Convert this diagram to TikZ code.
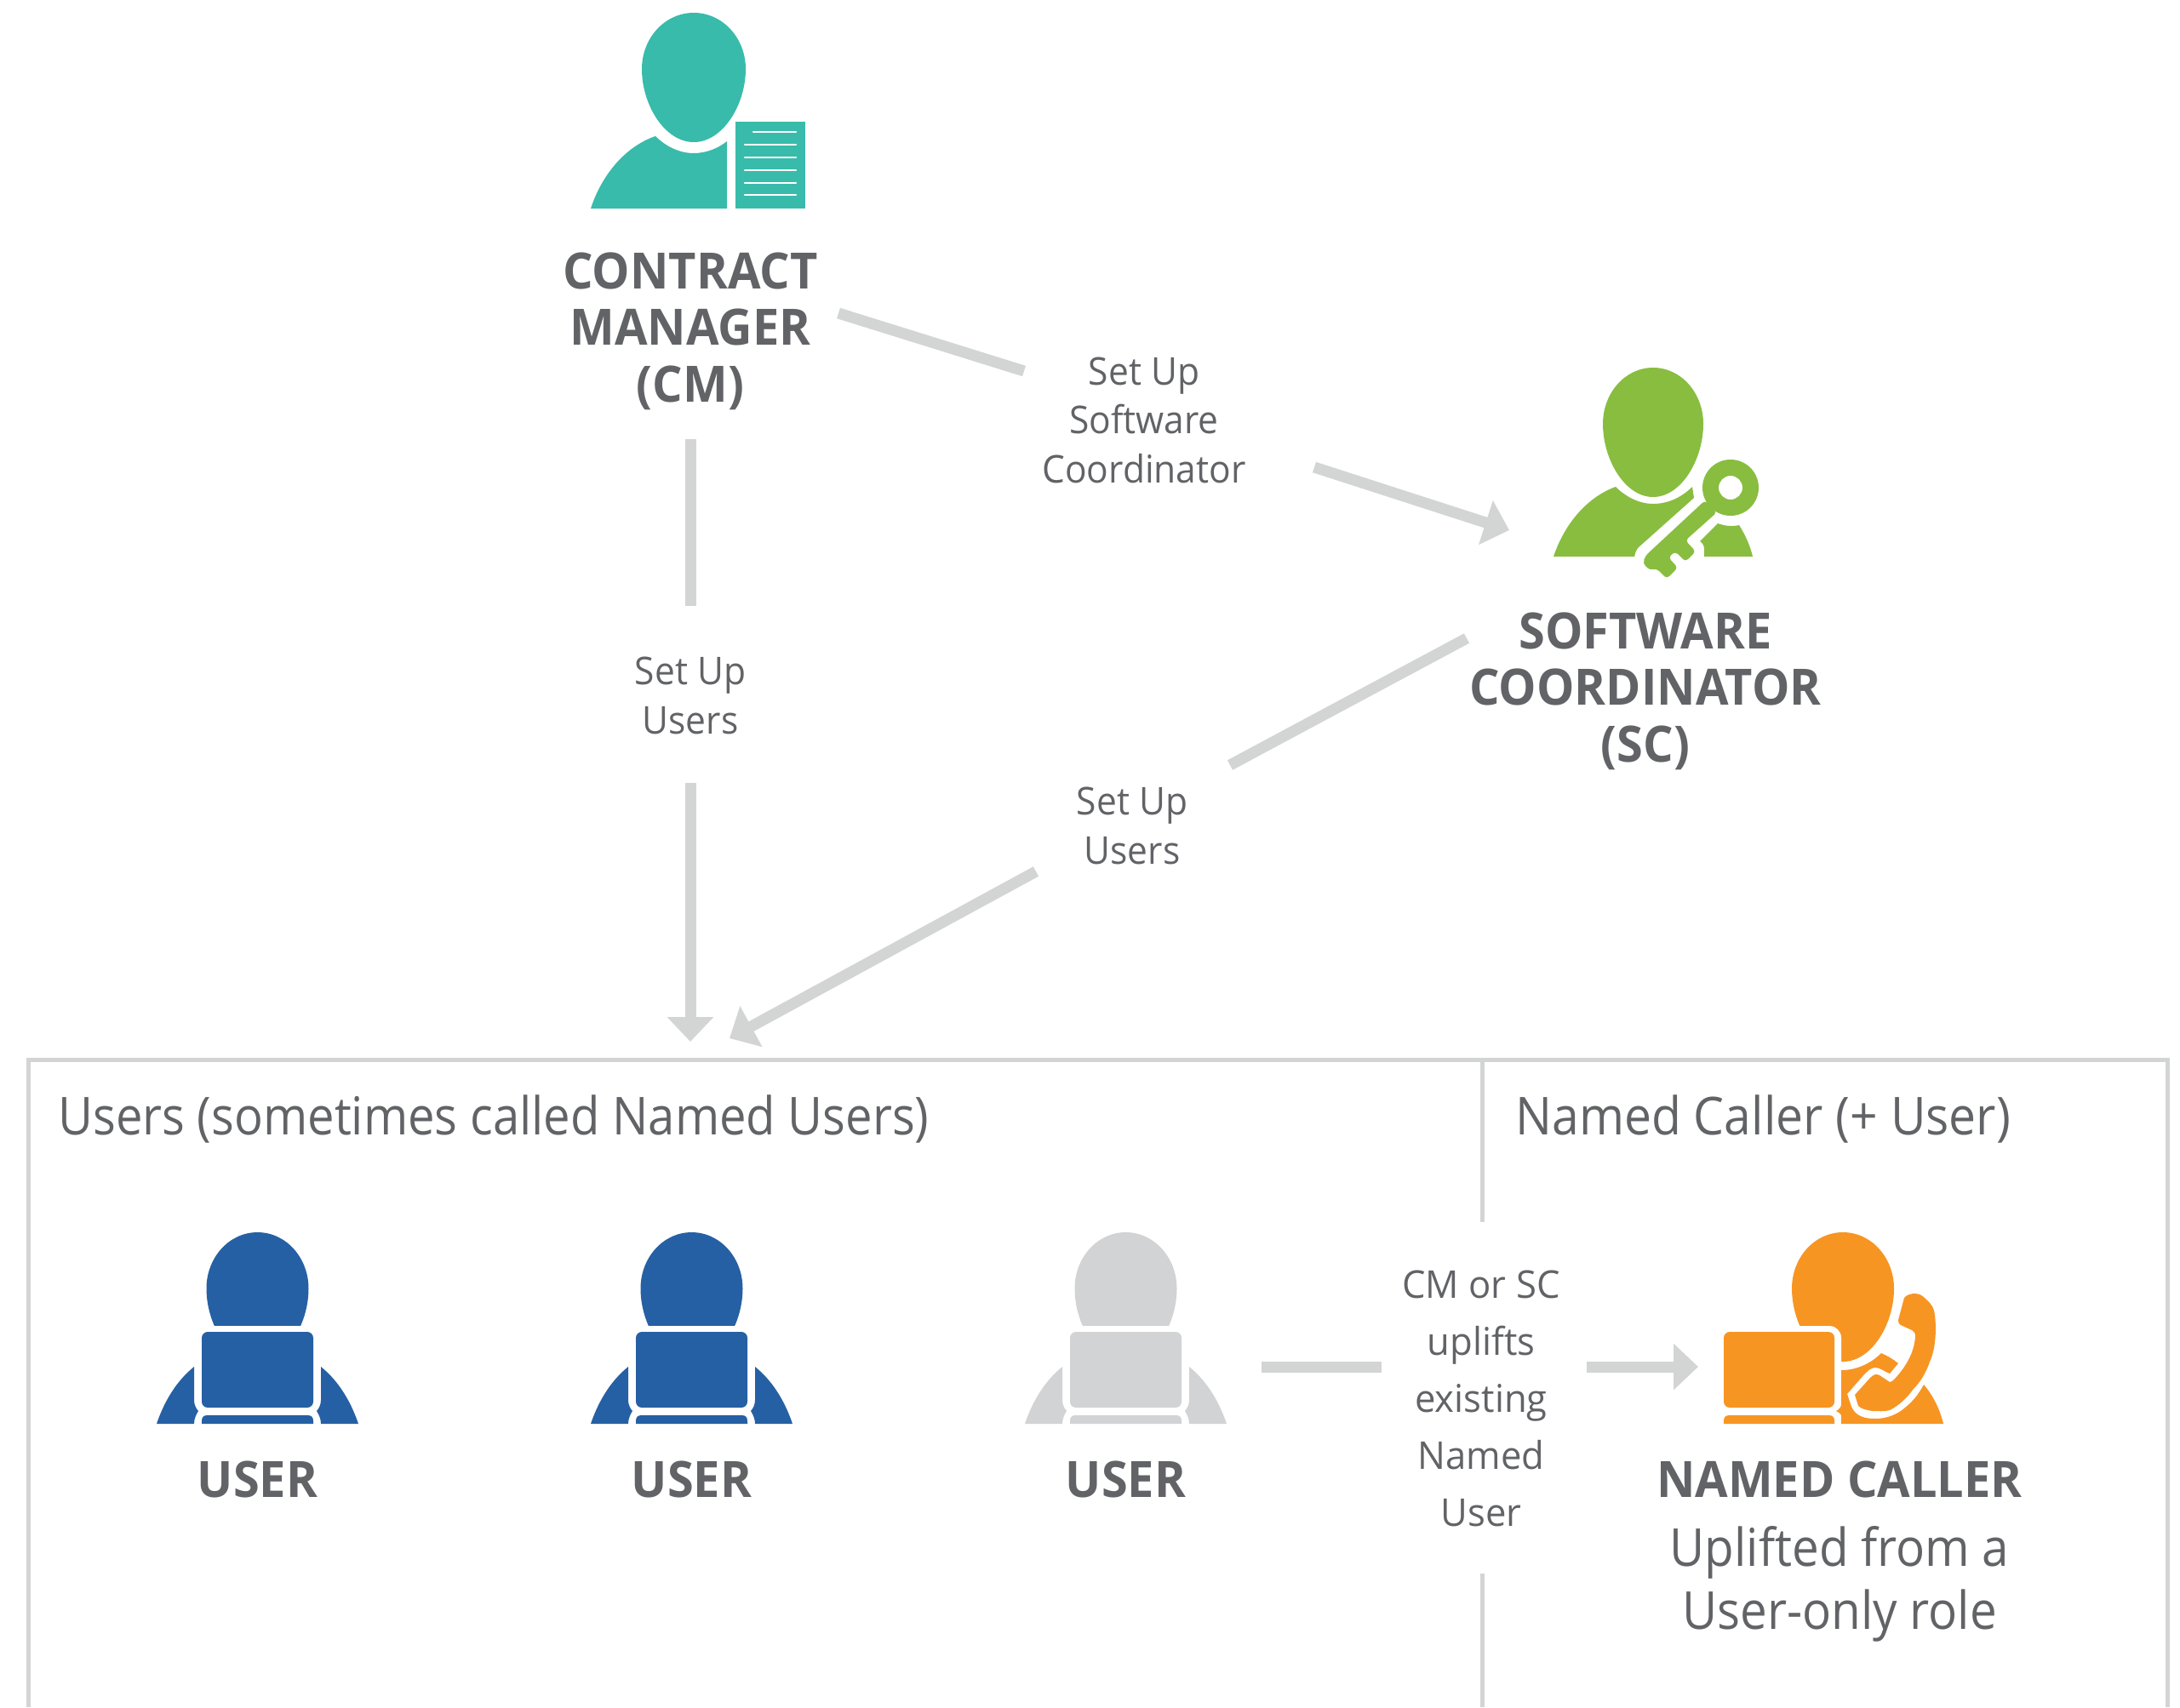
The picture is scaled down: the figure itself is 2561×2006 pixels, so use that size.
\documentclass[tikz,border=0pt]{standalone}
\usepackage{fontspec}
\setmainfont{Open Sans}
\newfontfamily\smallfam[FakeStretch=0.945]{Open Sans}
\newfontfamily\tallfam[FakeStretch=0.97]{Open Sans}
\newfontfamily\rolefam[FakeStretch=0.95]{Open Sans}
\newfontfamily\capfam[FakeStretch=0.914]{Open Sans}
\newfontfamily\capbfam[FakeStretch=0.928]{Open Sans}
\newfontfamily\subfam[FakeStretch=0.92]{Open Sans}
\usetikzlibrary{arrows.meta}
\definecolor{teal1}{HTML}{38BBAA}
\definecolor{green1}{HTML}{89BD40}
\definecolor{blue1}{HTML}{2660A4}
\definecolor{grey1}{HTML}{D1D3D4}
\definecolor{orange1}{HTML}{F79523}
\definecolor{txt}{HTML}{626366}
\definecolor{rule1}{HTML}{D3D5D4}
\tikzset{
  x=0.02cm,y=-0.02cm,
  flow/.style={draw=rule1,line width=0.26cm,line cap=butt},
  flowhead/.style={flow,-{Triangle[length=0.58cm,width=1.06cm,fill=rule1]}},
  frame/.style={draw=rule1,line width=0.1cm},
  small/.style={inner sep=0,text=txt,align=center,anchor=base,font=\fontsize{25.6}{32.7}\smallfam\selectfont},
  smalltall/.style={small,font=\fontsize{25.6}{38.1}\tallfam\selectfont},
  role/.style={inner sep=0,text=txt,align=center,anchor=base,font=\fontsize{33.5}{37.6}\rolefam\bfseries\selectfont},
  caption/.style={inner sep=0,text=txt,anchor=base west,font=\fontsize{35}{42}\capfam\selectfont},
  captionb/.style={caption,font=\fontsize{35}{42}\capbfam\selectfont},
  sub/.style={inner sep=0,text=txt,align=center,anchor=base,font=\fontsize{35}{41.8}\subfam\selectfont},
}
\newcommand{\HeadShape}[3]{% cx, top, half width
  (#1,#2) .. controls ({#1+0.56*#3},#2) and ({#1+#3},{#2+30}) .. ({#1+#3},{#2+66})
  .. controls ({#1+#3},{#2+108}) and ({#1+0.56*#3},{#2+152}) .. (#1,{#2+152})
  .. controls ({#1-0.56*#3},{#2+152}) and ({#1-#3},{#2+108}) .. ({#1-#3},{#2+66})
  .. controls ({#1-#3},{#2+30}) and ({#1-0.56*#3},#2) .. (#1,#2) -- cycle}
\newcommand{\Laptop}[3]{% x left, x right, colour
  \fill[#3,rounded corners=.14cm] (#1,1565) rectangle (#2,1654);
  \fill[#3] (#1,1673) -- (#1,1670) .. controls (#1,1665) and ({#1+2},1663) .. ({#1+7},1663)
    -- ({#2-7},1663) .. controls ({#2-2},1663) and (#2,1665) .. (#2,1670) -- (#2,1673) -- cycle;}
\newcommand{\UserIcon}[2]{%
  \begin{scope}[shift={(#1,0)}]
    \begin{scope}
      \clip (-80,1400) rectangle (80,1557);
      \fill[#2] \HeadShape{0}{1448}{60};
    \end{scope}
    \Laptop{-65.5}{65.5}{#2}
    \fill[#2] (-118.5,1673) .. controls (-108,1642) and (-92,1620) .. (-74.5,1606) -- (-74.5,1645)
      .. controls (-74.5,1651) and (-72,1655) .. (-69.5,1658) .. controls (-72,1662) and (-74.5,1667) .. (-74.5,1673) -- cycle;
    \fill[#2] (118.5,1673) .. controls (108,1642) and (92,1620) .. (74.5,1606) -- (74.5,1645)
      .. controls (74.5,1651) and (72,1655) .. (69.5,1658) .. controls (72,1662) and (74.5,1667) .. (74.5,1673) -- cycle;
  \end{scope}}
\begin{document}
\begin{tikzpicture}
\path[use as bounding box] (0,0) rectangle (2561,2006);
% Contract manager icon
\fill[teal1] \HeadShape{815}{15}{61};
\fill[teal1] (694,245) .. controls (707,205) and (735,172) .. (770,160)
  .. controls (782,172) and (798,180) .. (815,180)
  .. controls (830,180) and (844,174) .. (854,166) -- (854,245) -- cycle;
\fill[teal1] (864,143) rectangle (946,245);
\foreach \xa/\ya in {885/155,875/170,875/185,875/200,875/215,875/229}
  \draw[white,line width=0.05cm,line cap=round] (\xa,\ya) -- (935,\ya);
% Software coordinator icon
\fill[green1] \HeadShape{1942}{432}{59};
\fill[green1] (1825,654) .. controls (1838,615) and (1865,584) .. (1898,572)
  .. controls (1910,584) and (1926,592) .. (1942,592)
  .. controls (1960,592) and (1976,584) .. (1988,572) -- (1990,585) -- (1925,643)
  .. controls (1922,646) and (1921,650) .. (1920,654) -- cycle;
\fill[green1] (2002,654) -- (2002,645) .. controls (2002,641) and (2000,638) .. (1997,636) -- (2018,615)
  .. controls (2026,618) and (2035,619) .. (2043,617) .. controls (2050,628) and (2056,641) .. (2059,654) -- cycle;
\fill[green1,even odd rule] (2033,573) circle[radius=33] (2033,573) circle[radius=14];
\fill[green1,rounded corners=.08cm] (2003,588) -- (1933,653) -- (1930,662) -- (1938,670) -- (1946,668)
  -- (1958,680) -- (1971,667) -- (1960,655) -- (1968,648) -- (1980,660) -- (1992,648) -- (1980,635) -- (2017,602) -- cycle;
% Users
\UserIcon{302.5}{blue1}
\UserIcon{812.5}{blue1}
\UserIcon{1322.5}{grey1}
% Named caller icon
\fill[orange1] \HeadShape{2165}{1448}{60};
\fill[white,rounded corners=.28cm] (2015,1558) rectangle (2163,1700);
\Laptop{2025}{2155}{orange1}
\fill[orange1] (2163,1610) .. controls (2180,1610) and (2197,1603) .. (2210,1590)
  .. controls (2217,1593) and (2224,1597) .. (2230,1602) -- (2220,1614)
  .. controls (2214,1612) and (2209,1607) .. (2203,1607) .. controls (2198,1607) and (2194,1611) .. (2190,1615)
  -- (2170,1638) -- (2175,1653) .. controls (2180,1664) and (2190,1667) .. (2203,1667)
  .. controls (2215,1667) and (2228,1663) .. (2238,1654) .. controls (2247,1647) and (2254,1638) .. (2260,1627)
  .. controls (2271,1640) and (2279,1656) .. (2283,1673) -- (2163,1673) -- (2163,1663)
  .. controls (2163,1662) and (2161,1660) .. (2157,1658) .. controls (2161,1656) and (2163,1653) .. (2163,1650) -- cycle;
\fill[orange1] (2237,1525) .. controls (2240,1521) and (2246,1520) .. (2250,1520)
  .. controls (2256,1520) and (2260,1524) .. (2263,1527) .. controls (2270,1533) and (2272,1538) .. (2273,1545)
  .. controls (2275,1563) and (2274,1585) .. (2267,1600) .. controls (2262,1615) and (2255,1625) .. (2247,1633)
  .. controls (2240,1643) and (2230,1652) .. (2220,1657) .. controls (2213,1659) and (2207,1658) .. (2200,1658)
  .. controls (2192,1657) and (2186,1655) .. (2183,1652) -- (2179,1639) -- (2197,1619)
  .. controls (2201,1615) and (2204,1614) .. (2208,1616) -- (2220,1624)
  .. controls (2222,1624) and (2224,1622) .. (2226,1620) .. controls (2238,1607) and (2249,1590) .. (2250,1570)
  .. controls (2250,1566) and (2248,1564) .. (2246,1563) -- (2233,1557) .. controls (2230,1555) and (2230,1553) .. (2230,1551) -- cycle;
% Labels (anchored on the baseline of their last line)
\node[role] (cm) at (811,472) {CONTRACT\\MANAGER\\(CM)};
\node[role] (sc) at (1933,895) {SOFTWARE\\COORDINATOR\\(SC)};
\node[small] (lblsc) at (1344,567) {Set Up\\Software\\Coordinator};
\node[small] (lblcmu) at (811,862) {Set Up\\Users};
\node[small] (lblscu) at (1330,1015) {Set Up\\Users};
\node[smalltall] (lblup) at (1740,1793) {CM or SC\\uplifts\\existing\\Named\\User};
\node[caption] (capusers) at (68,1333) {Users (sometimes called Named Users)};
\node[captionb] (capcaller) at (1780,1333) {Named Caller (+ User)};
\node[role] (u1) at (302.5,1759) {USER};
\node[role] (u2) at (812.5,1759) {USER};
\node[role] (u3) at (1322.5,1759) {USER};
\node[role] (nc) at (2161,1759) {NAMED CALLER};
\node[sub] (ncsub) at (2161,1914) {Uplifted from a\\User-only role};
% Connector end points
\coordinate (a1) at (985,368);
\coordinate (a2) at (1203,436);
\coordinate (a3) at (1544,549);
\coordinate (a4) at (1773,623);
\coordinate (b1) at (811,516);
\coordinate (b2) at (811,712);
\coordinate (b3) at (811,920);
\coordinate (b4) at (811,1224);
\coordinate (c1) at (1723,750);
\coordinate (c2) at (1445,899);
\coordinate (c3) at (1217,1024);
\coordinate (c4) at (857,1220);
\coordinate (d1) at (1482,1606);
\coordinate (d2) at (1623,1606);
\coordinate (d3) at (1864,1606);
\coordinate (d4) at (1995,1606);
\coordinate (f1) at (33,2006);
\coordinate (f2) at (33,1245.5);
\coordinate (f3) at (2546,1245.5);
\coordinate (f4) at (2546,2006);
\coordinate (g1) at (1741,1245.5);
\coordinate (g2) at (1741,1436);
\coordinate (g3) at (1741,1849);
\coordinate (g4) at (1741,2006);
% Connectors
\draw[flow] (a1) -- (a2);
\draw[flowhead] (a3) -- (a4);
\draw[flow] (b1) -- (b2);
\draw[flowhead] (b3) -- (b4);
\draw[flow] (c1) -- (c2);
\draw[flowhead] (c3) -- (c4);
\draw[flow] (d1) -- (d2);
\draw[flowhead] (d3) -- (d4);
% Frame
\draw[frame] (f1) -- (f2) -- (f3) -- (f4);
\draw[frame] (g1) -- (g2);
\draw[frame] (g3) -- (g4);
\end{tikzpicture}
\end{document}
